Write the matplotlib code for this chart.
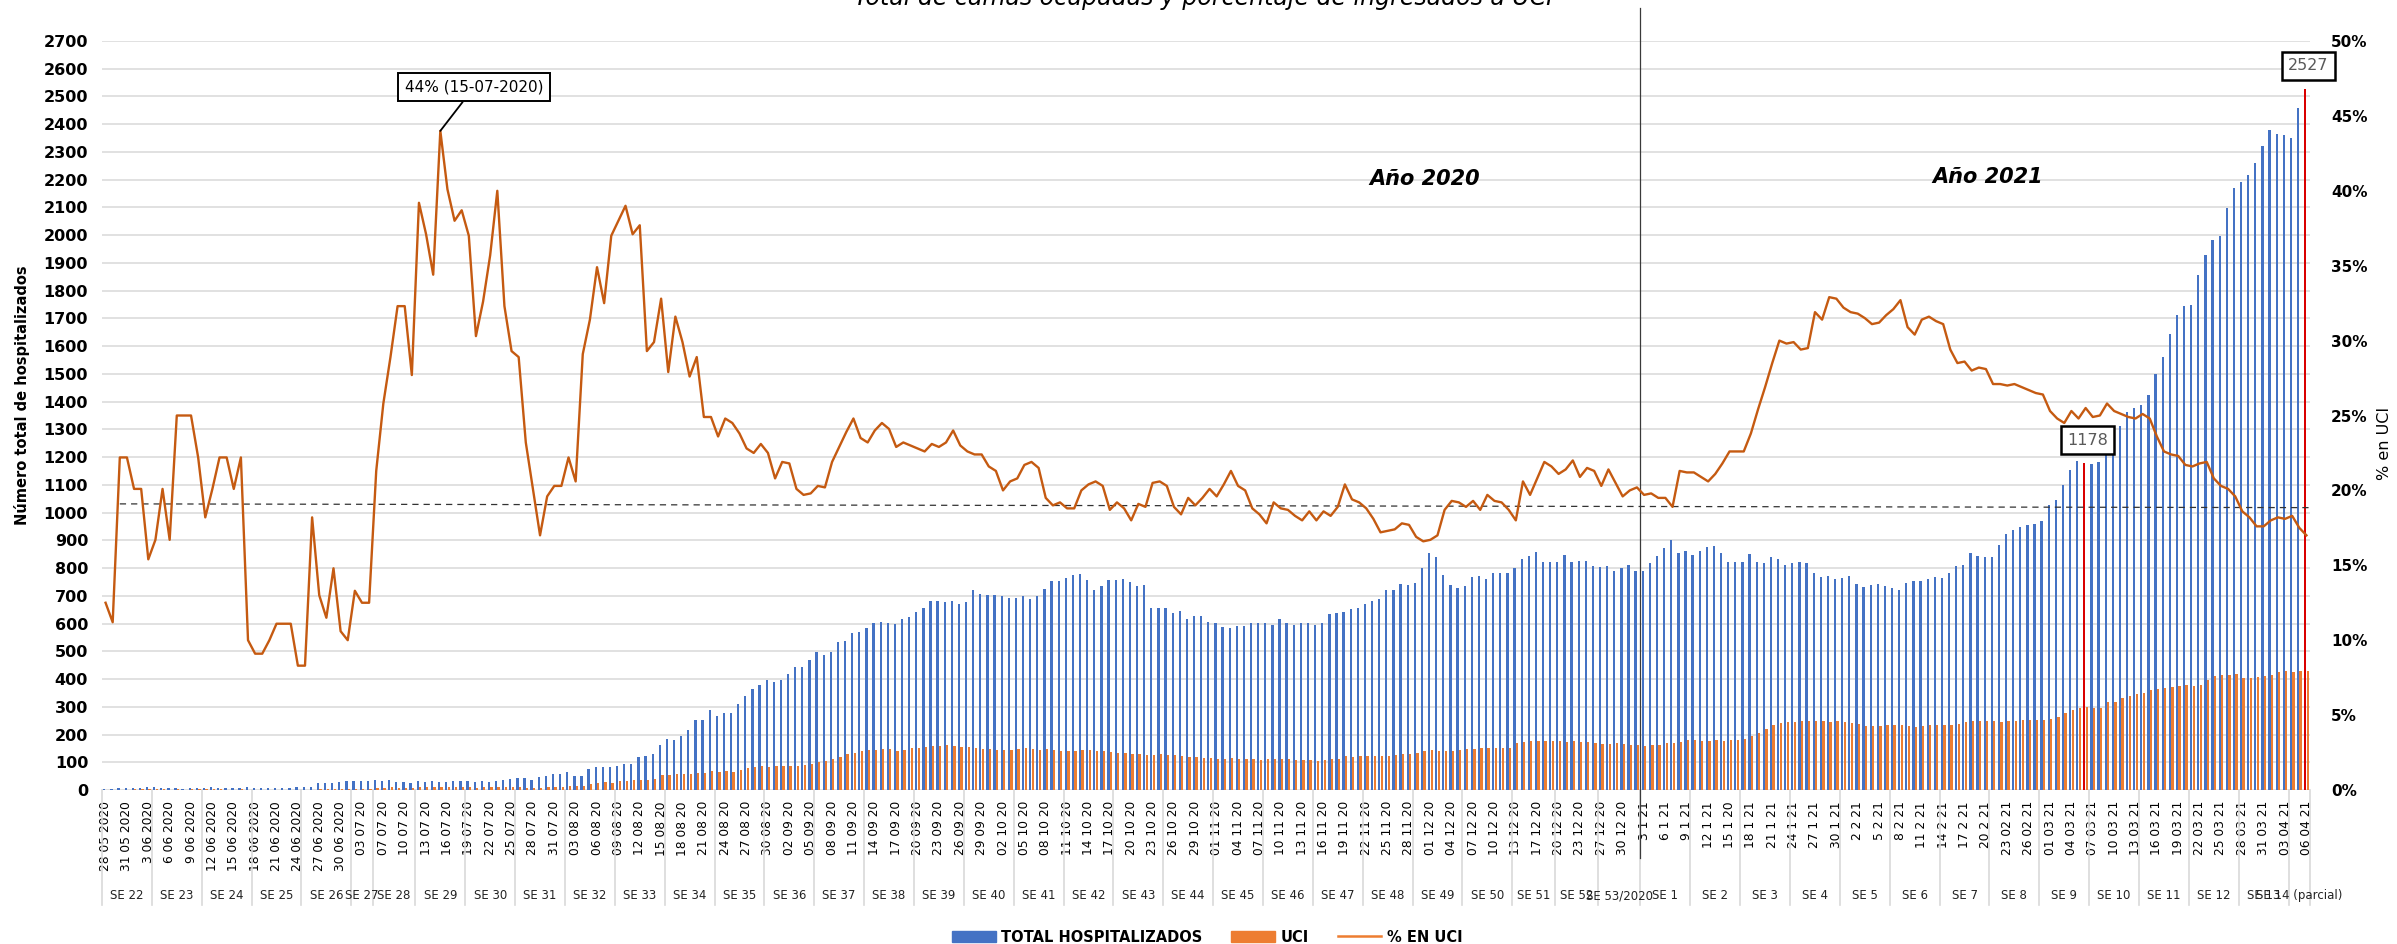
import numpy as np
import pandas as pd
import matplotlib
matplotlib.use('Agg')
import matplotlib.pyplot as plt
from matplotlib.patches import Patch
from matplotlib.lines import Line2D
from matplotlib.ticker import PercentFormatter
from matplotlib.transforms import blended_transform_factory

# dias con dato (faltan algunos dias en la serie original)
dias = pd.date_range('2020-05-28', '2021-04-06')
faltan = pd.to_datetime(['2020-07-05', '2020-12-15', '2020-12-25', '2021-01-01'])
dias = dias[~dias.isin(faltan)]

total = [
    5, 5, 6, 6, 8, 9, 10, 10, 9, 8, 6, 5, 6, 7, 9, 10, 8, 6, 7, 9, 10, 9, 8, 7, 6, 7, 9, 10, 11, 12,
    25, 26, 27, 30, 31, 31, 31, 31, 35, 31, 35, 28, 28, 25, 31, 28, 31, 28, 28, 31,
    31, 31, 28, 31, 28, 31, 37, 41, 44, 44, 37, 47, 51, 56, 59, 64, 52, 52, 77, 83,
    83, 83, 88, 92, 95, 119, 123, 128, 162, 184, 180, 193, 215, 251, 253, 290, 266, 276, 279, 309,
    338, 364, 377, 395, 389, 395, 419, 445, 445, 469, 496, 487, 496, 533, 537, 566,
    569, 584, 603, 606, 603, 597, 615, 624, 643, 656,
    680, 683, 676, 683, 670, 676, 720, 707, 703, 702,
    698, 692, 692, 698, 689, 698, 725, 753, 753, 766,
    775, 777, 757, 720, 735, 757, 757, 761, 749, 735,
    740, 656, 656, 656, 637, 646, 615, 628, 628, 606,
    603, 588, 584, 591, 591, 603, 601,
    603, 595, 615, 603, 593, 603, 603, 593, 603, 634,
    637, 643, 652, 657, 670, 680, 689, 720, 720, 744,
    738, 747, 802, 855, 840, 775, 740, 729, 735, 768,
    771, 762, 781, 781, 781, 799, 832, 845, 858, 823,
    823, 823, 848, 821, 827, 827, 808, 805, 808, 790,
    802, 812, 790, 790, 817, 845,
    872, 900, 855, 863, 848, 860, 876, 878, 855, 823,
    823, 821, 850, 823, 817, 840, 832, 812, 817, 823,
    817, 784, 768, 771, 762, 766, 771, 744, 731, 740,
    744, 735, 729, 722, 747, 753, 753, 762, 768, 766,
    784, 808, 812, 855, 845, 840, 840, 882, 922, 937,
    949, 955, 959, 970, 1029, 1047, 1099, 1154, 1185,
    1178, 1176, 1181, 1249, 1282, 1313, 1362, 1378, 1387, 1424,
    1501, 1561, 1644, 1713, 1745, 1748, 1855, 1929, 1984, 1998,
    2098, 2171, 2191, 2217, 2259, 2323, 2378, 2365, 2360, 2351,
    2457, 2527]

uci = [
    1, 1, 1, 1, 2, 2, 2, 2, 2, 1, 2, 1, 2, 2, 2, 2, 2, 1, 1, 2, 1, 1, 1, 1, 1, 1, 1, 1, 1, 1,
    3, 3, 3, 4, 4, 4, 4, 4, 7, 8, 10, 9, 9, 9, 12, 10, 11, 12, 11, 12,
    12, 11, 9, 10, 10, 12, 12, 12, 10, 9, 8, 8, 10, 11, 12, 13,
    15, 16, 22, 26, 29, 27, 31, 33, 35, 35,
    36, 38, 53, 55, 57, 58, 59, 62, 63, 70,
    66, 68, 66, 73, 78, 82, 85, 84, 85, 86,
    88, 88, 90, 95, 100, 105, 110, 120, 128, 135,
    140, 143, 145, 148, 146, 142, 145,
    150, 152, 155, 158, 160, 162, 160, 155, 155, 150,
    148, 147, 145, 143, 145, 147, 150, 148, 145, 147, 143, 142, 140, 142, 145, 143, 142, 140,
    137, 135, 132, 130, 128, 127, 125, 128, 126, 125,
    122, 120, 118, 117, 115, 113, 112, 115, 113, 112, 110, 108, 110, 112, 111,
    110, 108, 108, 107, 106, 108, 110, 112, 122, 120,
    122, 123, 123, 122, 124, 125, 128, 131, 135, 140,
    143, 142, 140, 142, 145, 146, 148, 150, 152, 150, 152, 150,
    170, 172, 175, 177, 176, 178, 175, 172, 176, 174, 172, 170, 165, 167, 168, 165, 162, 163,
    160, 162, 164, 168, 170, 172,
    180, 180, 178, 175, 180, 178, 180, 182, 185,
    195, 205, 220, 235, 240, 245,
    245, 248, 250, 250, 248, 245, 248, 245, 242, 238, 232, 230, 232, 235,
    236, 236, 230, 228, 232, 235, 235, 236, 235, 238, 245, 250, 250, 250, 248,
    245, 248, 250, 252, 252, 252, 252, 255, 262, 278,
    290, 295, 300, 294, 296, 316, 318, 330, 340, 345,
    348, 360, 365, 367, 370, 376, 378, 376, 380, 395,
    410, 413, 415, 418, 405, 404, 406, 410, 415, 425,
    428, 426, 430, 430]

# % en UCI
pct = [
    12.5, 11.2, 22.2, 22.2, 20.1, 20.1, 15.4, 16.7, 20.1, 16.7,
    25, 25, 25, 22.2, 18.2, 20.1, 22.2, 22.2, 20.1, 22.2,
    10, 9.1, 9.1, 10, 11.1, 11.1, 11.1, 8.3, 8.3, 18.2,
    13, 11.5, 14.8, 10.6, 10, 13.3, 12.5, 12.5, 21.3, 25.8,
    28.9, 32.3, 32.3, 27.7, 39.2, 37.1, 34.4, 44, 40.1, 38,
    38.7, 37, 30.3,
    32.6, 35.7, 40, 32.3, 29.3, 28.9, 23.2, 20.1, 17, 19.6,
    20.3, 20.3, 22.2, 20.6, 29.1, 31.4, 34.9, 32.5, 37, 38,
    39, 37.1, 37.7, 29.3, 29.9, 32.8, 27.9, 31.6, 29.9, 27.6,
    28.9, 24.9, 24.9, 23.6, 24.8, 24.5, 23.8, 22.8, 22.5, 23.1,
    22.5, 20.8, 21.9, 21.8, 20.1, 19.7, 19.8, 20.3, 20.2, 21.9,
    22.9, 23.9, 24.8, 23.5, 23.2, 24,
    24.5, 24.1, 22.9, 23.2, 23, 22.8, 22.6, 23.1, 22.9, 23.2,
    24, 23, 22.6, 22.4, 22.4, 21.6, 21.3, 20, 20.6, 20.8,
    21.7, 21.9, 21.5, 19.5, 19, 19.2, 18.8, 18.8, 20, 20.4,
    20.6, 20.3, 18.7, 19.2, 18.8, 18, 19.1, 18.9, 20.5, 20.6,
    20.3, 18.9, 18.4, 19.5, 19, 19.5, 20.1, 19.6, 20.4, 21.3,
    20.3, 20, 18.8, 18.4, 17.8, 19.2, 18.8,
    18.7, 18.3, 18, 18.6, 18, 18.6, 18.3, 18.9, 20.4, 19.4,
    19.2, 18.8, 18.1, 17.2, 17.3, 17.4, 17.8, 17.7, 16.9, 16.6,
    16.7, 17, 18.7, 19.3, 19.2, 18.9, 19.3, 18.7, 19.7, 19.3,
    19.2, 18.7, 18, 20.6, 19.7, 20.8, 21.9, 21.6, 21.1, 21.4,
    22, 20.9, 21.5, 21.3, 20.3, 21.4, 20.5, 19.6, 20, 20.2,
    19.7, 19.8, 19.5, 19.5, 18.9, 21.3,
    21.2, 21.2, 20.9, 20.6, 21.1, 21.8, 22.6, 22.6, 22.6, 23.8,
    25.4, 26.9, 28.5, 30, 29.8, 29.9, 29.4, 29.5, 31.9, 31.4,
    32.9, 32.8, 32.2, 31.9, 31.8, 31.5, 31.1, 31.2, 31.7, 32.1,
    32.7, 30.9, 30.4, 31.4, 31.6, 31.3, 31.1, 29.4, 28.5, 28.6,
    28, 28.2, 28.1, 27.1,
    27.1, 27, 27.1, 26.9, 26.7, 26.5, 26.4, 25.3, 24.8, 24.5,
    25.3, 24.8, 25.5, 24.9, 25, 25.8, 25.3, 25.1, 24.9, 24.8,
    25.1, 24.8, 23.6, 22.6, 22.4, 22.3, 21.7, 21.6, 21.8, 21.9,
    20.8, 20.3, 20.1, 19.6, 18.6, 18.2, 17.6, 17.6, 18, 18.2,
    18.1, 18.3, 17.5, 17]

# linea punteada (promedio) al inicio y al final
prom_ini, prom_fin = 19.1, 18.85

etiquetas = [
    '28 05 2020', '31 05 2020', '3 06 2020', '6 06 2020', '9 06 2020', '12 06 2020',
    '15 06 2020', '18 06 2020', '21 06 2020', '24 06 2020', '27 06 2020', '30 06 2020',
    '03 07 20', '07 07 20', '10 07 20', '13 07 20', '16 07 20', '19 07 20', '22 07 20',
    '25 07 20', '28 07 20', '31 07 20', '03 08 20', '06 08 20', '09 08 20', '12 08 20',
    '15 08 20', '18 08 20', '21 08 20', '24 08 20', '27 08 20', '30 08 20', '02 09 20',
    '05 09 20', '08 09 20', '11 09 20', '14 09 20', '17 09 20', '20 09 20', '23 09 20',
    '26 09 20', '29 09 20', '02 10 20', '05 10 20', '08 10 20', '11 10 20', '14 10 20',
    '17 10 20', '20 10 20', '23 10 20', '26 10 20', '29 10 20', '01 11 20', '04 11 20',
    '07 11 20', '10 11 20', '13 11 20', '16 11 20', '19 11 20', '22 11 20', '25 11 20',
    '28 11 20', '01 12 20', '04 12 20', '07 12 20', '10 12 20', '13 12 20', '17 12 20',
    '20 12 20', '23 12 20', '27 12 20', '30 12 20', '3 1 21', '6 1 21', '9 1 21',
    '12 1 21', '15 1 20', '18 1 21', '21 1 21', '24 1 21', '27 1 21', '30 1 21',
    '2 2 21', '5 2 21', '8 2 21', '11 2 21', '14 2 21', '17 2 21', '20 2 21',
    '23 02 21', '26 02 21', '01 03 21', '04 03 21', '07 03 21', '10 03 21', '13 03 21',
    '16 03 21', '19 03 21', '22 03 21', '25 03 21', '28 03 21', '31 03 21', '03 04 21',
    '06 04 21']

semanas = ['SE 22', 'SE 23', 'SE 24', 'SE 25', 'SE 26', 'SE 27', 'SE 28'] + \
    ['SE %d' % k for k in range(29, 53)] + ['SE 53/2020'] + \
    ['SE %d' % k for k in range(1, 14)] + ['SE 14 (parcial)']
dias_sem = [7, 7, 7, 7, 7, 3, 6] + [7] * 22 + [6, 6, 6] + [7] * 13 + [3]

n = len(dias)
assert len(total) == n and len(uci) == n and len(pct) == n, (len(total), len(uci), len(pct), n)
assert sum(dias_sem) == n

plt.rcParams['font.family'] = 'DejaVu Sans'
AZUL = '#4472C4'
NARANJA = '#ED7D31'
LINEA = '#C55A11'
ROJO = '#D90000'

W, H = 2397, 944
fig = plt.figure(figsize=(W / 100, H / 100), dpi=100)
ax = fig.add_axes([102 / W, 1 - 790 / H, (2310 - 102) / W, (790 - 41) / H])

x = np.arange(n)
i_1178 = dias.get_loc(pd.Timestamp('2021-03-06'))
col_tot = [AZUL] * n
col_tot[i_1178] = ROJO
col_tot[-1] = ROJO

ax.bar(x - 0.18, total, width=0.32, color=col_tot, zorder=2)
ax.bar(x + 0.18, uci, width=0.32, color=NARANJA, zorder=2)
ax.set_xlim(-0.5, n - 0.5)
ax.set_ylim(0, 2700)
ax.set_yticks(range(0, 2701, 100))
ax.grid(axis='y', color='#D9D9D9', lw=1.1)
ax.set_axisbelow(True)
for s in ax.spines.values():
    s.set_visible(False)

ax.set_xticks(range(0, n, 3))
ax.set_xticklabels(etiquetas, rotation=90, fontsize=8.8, va='top')
ax.tick_params(axis='x', length=0, pad=8)
ax.tick_params(axis='y', length=0, pad=10, labelsize=11.5)
plt.setp(ax.get_yticklabels(), fontweight='bold')
ax.set_ylabel('Número total de hospitalizados', fontsize=10.5, fontweight='bold')
ax.yaxis.set_label_coords(-0.0325, 0.527)

ax2 = ax.twinx()
ax2.plot(x, np.array(pct) / 100, color=LINEA, lw=1.7, zorder=3)
ax2.plot([2, n - 0.5], [prom_ini / 100, prom_fin / 100], ls='--', dashes=(5, 4),
         color='#333333', lw=0.9)
ax2.set_ylim(0, 0.5)
ax2.set_yticks(np.arange(0, 0.501, 0.05))
ax2.yaxis.set_major_formatter(PercentFormatter(1.0, decimals=0))
ax2.tick_params(axis='y', length=0, pad=15, labelsize=11)
plt.setp(ax2.get_yticklabels(), fontweight='bold')
for s in ax2.spines.values():
    s.set_visible(False)
ax2.set_ylabel('% en UCI', fontsize=11.5)
ax2.yaxis.set_label_coords(1.0305, 0.463)

# semanas epidemiologicas bajo las fechas
tr = blended_transform_factory(ax.transData, ax.transAxes)
ini = 0
for lab, d in zip(semanas, dias_sem):
    ax.plot([ini - 0.5, ini - 0.5], [0, -0.1535], transform=tr, color='#D9D9D9',
            lw=1.2, clip_on=False)
    ax.text(ini + d / 2 - 0.5, -0.1415, lab, transform=tr, ha='center', va='center',
            fontsize=8.5, color='#222222')
    ini += d
ax.plot([n - 0.5, n - 0.5], [0, -0.1535], transform=tr, color='#D9D9D9', lw=1.2,
        clip_on=False)

# division entre años
i_2021 = dias.get_loc(pd.Timestamp('2021-01-03'))
ax.plot([i_2021 - 0.5, i_2021 - 0.5], [1.044, -0.091], transform=tr, color='#3A3A3A',
        lw=0.9, clip_on=False, zorder=4)
ax.text(0.599, 0.816, 'Año 2020', transform=ax.transAxes, ha='center', va='center',
        fontsize=15, fontweight='bold', style='italic')
ax.text(0.854, 0.818, 'Año 2021', transform=ax.transAxes, ha='center', va='center',
        fontsize=15, fontweight='bold', style='italic')

# anotaciones
i_max = dias.get_loc(pd.Timestamp('2020-07-15'))
ax2.annotate('44% (15-07-2020)', xy=(i_max, pct[i_max] / 100), xytext=(34, 44),
             textcoords='offset pixels', ha='center', va='center', fontsize=11,
             bbox=dict(boxstyle='square,pad=0.45', fc='white', ec='black', lw=1.4),
             arrowprops=dict(arrowstyle='-', color='black', lw=1.3, shrinkA=0, shrinkB=0),
             zorder=5)
for i in [i_1178, n - 1]:
    ax2.annotate(str(total[i]), xy=(i - 0.18, total[i] / 2700 * 0.5), xytext=(3, 23),
                 textcoords='offset pixels', ha='center', va='center', fontsize=11.5,
                 color='#595959', annotation_clip=False,
                 bbox=dict(boxstyle='square,pad=0.4', fc='white', ec='black', lw=1.8),
                 zorder=5)

fig.text(0.5023, 1 - 5 / H, 'Total de camas ocupadas y porcentaje de ingresados a UCI',
         ha='center', va='baseline', fontsize=17, style='italic')

handles = [Patch(color=AZUL), Patch(color=NARANJA), Line2D([], [], color=NARANJA, lw=1.8)]
fig.legend(handles, ['TOTAL HOSPITALIZADOS', 'UCI', '% EN UCI'], loc='center',
           bbox_to_anchor=(0.5036, 0.0074), ncol=3, frameon=False,
           prop={'size': 10.5, 'weight': 'bold'}, handlelength=3, handleheight=0.7,
           handletextpad=0.35, columnspacing=2.0, borderpad=0)

fig.savefig('out.png', dpi=100)
